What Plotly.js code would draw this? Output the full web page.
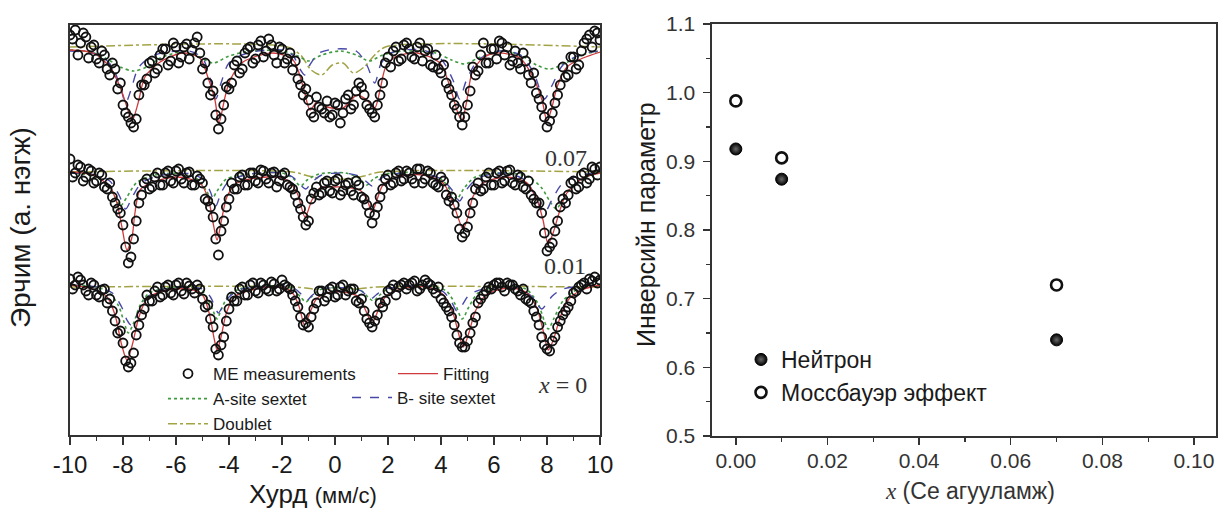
<!DOCTYPE html>
<html>
<head>
<meta charset="utf-8">
<script src="https://cdn.plot.ly/plotly-3.0.1.min.js"></script>
<style>html,body{margin:0;padding:0;background:#fff;}#chart{width:1218px;height:508px;}</style>
</head>
<body>
<div id="chart"></div>
<script>
// ---------- Left panel: Mössbauer spectra (velocity, mm/s) ----------
const vel = [-10,-9.8,-9.6,-9.4,-9.2,-9,-8.8,-8.6,-8.4,-8.2,-8,-7.8,-7.6,-7.4,-7.2,-7,-6.8,-6.6,-6.4,-6.2,-6,-5.8,-5.6,-5.4,-5.2,-5,-4.8,-4.6,-4.4,-4.2,-4,-3.8,-3.6,-3.4,-3.2,-3,-2.8,-2.6,-2.4,-2.2,-2,-1.8,-1.6,-1.4,-1.2,-1,-0.8,-0.6,-0.4,-0.2,0,0.2,0.4,0.6,0.8,1,1.2,1.4,1.6,1.8,2,2.2,2.4,2.6,2.8,3,3.2,3.4,3.6,3.8,4,4.2,4.4,4.6,4.8,5,5.2,5.4,5.6,5.8,6,6.2,6.4,6.6,6.8,7,7.2,7.4,7.6,7.8,8,8.2,8.4,8.6,8.8,9,9.2,9.4,9.6,9.8,10];
const velB = [-9.9,-9.7,-9.5,-9.3,-9.1,-8.9,-8.7,-8.5,-8.3,-8.1,-7.9,-7.7,-7.5,-7.3,-7.1,-6.9,-6.7,-6.5,-6.3,-6.1,-5.9,-5.7,-5.5,-5.3,-5.1,-4.9,-4.7,-4.5,-4.3,-4.1,-3.9,-3.7,-3.5,-3.3,-3.1,-2.9,-2.7,-2.5,-2.3,-2.1,-1.9,-1.7,-1.5,-1.3,-1.1,-0.9,-0.7,-0.5,-0.3,-0.1,0.1,0.3,0.5,0.7,0.9,1.1,1.3,1.5,1.7,1.9,2.1,2.3,2.5,2.7,2.9,3.1,3.3,3.5,3.7,3.9,4.1,4.3,4.5,4.7,4.9,5.1,5.3,5.5,5.7,5.9,6.1,6.3,6.5,6.7,6.9,7.1,7.3,7.5,7.7,7.9,8.1,8.3,8.5,8.7,8.9,9.1,9.3,9.5,9.7,9.9];

// measured intensities (arb. units, stacked spectra) - even channels
const meas1 = [400,405,392,398,388,376,384,366,372,346,330,318,308,340,350,372,362,380,386,374,388,378,391,385,398,366,352,344,306,330,346,370,362,382,388,376,394,384,390,372,386,376,365,356,340,335,318,328,322,318,332,312,336,326,344,348,330,322,330,352,378,384,374,390,386,376,392,384,370,380,362,352,340,326,310,330,368,364,392,372,386,394,380,370,384,366,374,352,342,328,308,322,340,368,360,378,370,392,400,404,395];
const meas2 = [276,262,268,258,264,254,260,246,238,226,210,172,196,232,252,246,258,250,262,254,264,256,262,250,259,252,234,218,180,214,236,246,258,250,262,254,265,256,262,248,260,250,246,232,218,214,242,240,252,244,254,240,250,244,254,238,230,212,228,246,260,252,264,256,262,252,266,256,262,250,258,240,238,222,198,208,232,252,246,262,250,264,254,265,250,258,246,240,232,222,184,192,214,236,240,254,248,262,256,266,268];
const meas3 = [156,150,155,144,152,140,145,132,124,102,92,68,82,110,126,134,144,138,148,142,150,144,152,146,150,136,130,108,80,98,126,134,146,140,150,144,152,146,153,144,155,148,140,128,110,108,126,144,134,146,138,148,140,146,134,136,116,108,120,128,144,150,148,152,150,154,146,155,150,142,136,128,118,100,88,94,112,132,140,148,150,152,144,150,146,140,136,132,118,98,86,94,108,120,128,142,148,152,156,158,155];
// odd channels
const meas1b = [396,380,402,377,390,372,380,360,366,352,322,312,316,350,356,374,366,386,370,392,372,388,376,392,382,372,340,320,316,348,352,374,366,386,372,390,378,396,380,388,372,382,374,350,346,322,338,326,334,320,330,322,340,330,352,340,326,318,340,372,368,388,376,392,378,388,374,386,368,366,370,346,330,318,318,344,360,380,372,386,376,392,388,374,372,382,360,362,336,318,314,332,350,358,378,366,384,396,388,402];
const meas2b = [258,270,254,266,252,262,248,252,232,222,188,178,214,240,256,248,262,250,264,252,266,252,263,250,256,236,228,196,204,228,252,246,260,250,262,252,264,252,263,254,262,248,240,226,210,236,248,242,254,242,256,244,252,240,250,236,222,220,238,256,250,262,254,264,256,266,252,264,252,248,254,234,230,206,202,222,246,244,258,250,262,252,264,252,260,248,254,236,232,202,188,204,228,232,252,246,260,252,268,260];
const meas3b = [146,158,150,140,150,138,146,136,114,104,74,72,100,120,140,134,148,140,150,140,152,141,149,142,146,128,116,86,90,114,138,134,148,140,152,142,150,144,151,146,150,146,134,118,112,118,132,144,138,148,140,150,144,146,132,124,112,114,132,134,146,140,150,146,152,144,150,152,146,148,132,124,110,92,88,102,118,136,144,146,152,148,152,150,144,146,134,124,110,90,84,98,114,124,134,144,150,146,154,152];

// fitted curves (read at knots)
const fit1V = [-10,-9.13,-8.49,-8.11,-7.85,-7.66,-7.43,-7.17,-6.6,-5.74,-5.1,-4.8,-4.53,-4.38,-4.15,-3.96,-3.47,-2.34,-1.58,-1.2,-0.94,-0.68,-0.3,0.3,0.83,1.2,1.5,1.7,1.9,2.26,3.1,3.96,4.34,4.64,4.79,4.98,5.17,5.58,6.11,6.98,7.47,7.81,8,8.19,8.38,8.75,9.36,10];
const fit1Y = [385,382,368,348,328,314,332,358,373,382,377,358,335,312,338,355,373,382,375,348,325,333,328,327,340,335,327,345,367,378,382,372,348,322,315,335,362,377,382,377,358,335,314,328,348,368,377,383];
const fit2V = [-10,-9.13,-8.49,-8.23,-8.04,-7.85,-7.66,-7.55,-7.36,-6.87,-5.96,-5.1,-4.79,-4.6,-4.45,-4.26,-4.08,-3.7,-2.57,-1.81,-1.43,-1.13,-0.87,-0.57,-0.07,0.19,0.94,1.21,1.4,1.58,1.81,2.34,3.32,4.08,4.45,4.72,4.83,5.02,5.2,5.58,6.49,7.25,7.62,7.85,8.04,8.23,8.49,8.75,9.36,10];
const fit2Y = [263,260,248,232,208,185,198,222,245,253,258,252,237,212,195,218,238,252,258,255,242,218,235,247,248,248,245,235,223,235,250,258,260,252,232,212,206,218,238,252,258,252,235,215,191,202,225,242,257,262];
const fit3V = [-10,-9.13,-8.6,-8.3,-8.05,-7.85,-7.65,-7.4,-7.1,-6.5,-5.5,-5,-4.75,-4.55,-4.45,-4.3,-4.1,-3.8,-3,-2,-1.6,-1.35,-1.15,-0.95,-0.7,-0.3,0.3,0.9,1.15,1.4,1.65,1.9,2.5,3.5,4.1,4.45,4.7,4.85,5.05,5.3,5.7,6.5,7.2,7.6,7.85,8.05,8.25,8.5,8.8,9.3,10];
const fit3Y = [150,146,138,120,90,75,90,118,136,144,146,140,122,95,85,98,122,138,146,148,142,128,110,122,136,142,143,138,125,112,126,138,146,148,140,122,98,88,102,124,140,147,143,128,105,85,96,118,135,145,150];

// B-site sextet components
const bs1V = [-10,-8.9,-8.4,-8.1,-7.9,-7.7,-7.4,-6.8,-5.5,-5,-4.75,-4.5,-4.3,-4,-3.3,-2,-1.6,-1.3,-1.15,-0.95,-0.6,0,0.8,1.2,1.5,1.75,2.2,3.3,4,4.45,4.7,4.95,5.4,6.2,7,7.5,7.9,8.2,8.6,9.3,10];
const bs1Y = [384,380,368,348,332,345,368,380,384,377,360,336,352,372,382,385,380,365,360,370,382,386,384,370,352,372,383,385,376,355,336,354,375,384,380,362,336,350,370,381,384];
const bs2V = [-10,-9,-8.5,-8.15,-7.9,-7.65,-7.3,-6.5,-5.4,-4.95,-4.7,-4.5,-4.3,-4,-3.2,-2,-1.6,-1.3,-1.1,-0.9,-0.5,0.3,0.9,1.2,1.4,1.6,2,3.2,4,4.45,4.7,4.95,5.4,6.4,7.1,7.55,7.9,8.2,8.6,9.3,10];
const bs2Y = [262,260,254,240,226,238,252,260,261,255,243,229,242,254,261,262,258,250,246,252,260,262,259,253,249,254,260,262,256,244,234,245,257,262,256,240,222,236,252,260,262];
const bs3V = [-10,-9,-8.4,-8.05,-7.85,-7.7,-7.5,-7.25,-6.9,-6,-5,-4.7,-4.5,-4.4,-4.25,-4,-3.5,-2,-1.5,-1.25,-1.05,-0.85,-0.5,0.5,1,1.2,1.35,1.55,1.9,3.5,4.1,4.4,4.6,4.8,5.1,6,7,7.45,7.65,7.8,7.95,8.2,8.6,10];
const bs3Y = [150,148,142,128,115,110,118,132,142,148,146,138,126,122,128,138,146,149,146,140,135,140,146,147,144,139,136,140,146,149,143,133,124,130,141,148,146,138,130,126,130,139,146,150];

// A-site sextet components
const as1V = [-10,-9.2,-8.6,-8.1,-7.6,-7.1,-6.6,-5.8,-5.2,-4.6,-4,-3.2,-2,-1.4,-1,-0.5,0.2,0.8,1.3,1.8,2.6,3.8,4.4,4.9,5.4,6.2,7,7.6,8.1,8.7,9.3,10];
const as1Y = [385,383,376,368,364,368,377,383,379,372,379,384,384,379,374,380,384,380,374,380,384,382,375,371,377,384,380,370,366,372,380,384];
const as2V = [-10,-9.1,-8.6,-8.3,-8.1,-7.85,-7.5,-6.8,-5.6,-5.1,-4.85,-4.65,-4.45,-4.1,-3.2,-2,-1.6,-1.3,-1.05,-0.6,0.4,0.9,1.2,1.45,1.9,3.3,4,4.35,4.6,4.85,5.3,6.5,7.3,7.8,8.1,8.35,8.6,9,9.6,10];
const as2Y = [262,259,250,238,229,238,252,260,261,254,244,236,244,256,261,262,257,249,255,261,262,257,250,256,261,262,256,245,236,246,258,262,258,247,234,226,236,250,259,262];
const as3V = [-10,-9,-8.5,-8.15,-7.95,-7.8,-7.6,-7.35,-7,-6,-5.1,-4.8,-4.6,-4.45,-4.3,-4.05,-3.6,-2,-1.6,-1.3,-1.1,-0.9,-0.5,0.5,1,1.25,1.45,1.65,2,3.5,4.2,4.55,4.8,5.05,5.4,6.3,7.2,7.65,7.9,8.05,8.25,8.6,9.1,10];
const as3Y = [150,148,142,128,112,102,112,130,142,148,146,136,124,116,125,138,146,149,146,138,133,138,146,147,144,138,134,139,146,149,144,130,116,128,142,149,146,132,114,106,116,134,145,150];

// Doublet components
const db1V = [-10,-1.8,-1.3,-0.9,-0.5,-0.1,0.3,0.7,1.1,1.5,1.9,10];
const db1Y = [388,388,380,365,360,370,372,362,368,380,388,388];
const db2V = [-10,-1.6,-1,-0.4,0.4,1.1,1.7,10];
const db2Y = [263,263,259,256,256,259,263,263];
const db3V = [-10,-1.5,-0.8,0.8,1.6,10];
const db3Y = [148,148,146,146,148,148];

const velTicks = [-10,-8,-6,-4,-2,0,2,4,6,8,10];
const velTickText = ['-10','-8','-6','-4','-2','0','2','4','6','8','10'];

// ---------- Right panel: inversion parameter vs Ce content ----------
const ceX = [0, 0.01, 0.07];
const neutronInv = [0.918, 0.874, 0.640];
const mossInv = [0.988, 0.905, 0.720];
const ceTicks = [0, 0.02, 0.04, 0.06, 0.08, 0.10];
const ceTickText = ['0.00','0.02','0.04','0.06','0.08','0.10'];
const invTicks = [0.5, 0.6, 0.7, 0.8, 0.9, 1.0, 1.1];
const invTickText = ['0.5','0.6','0.7','0.8','0.9','1.0','1.1'];

const RED = '#d03a3c', BLUE = '#4848a8', GREEN = '#3f9b3f', OLIVE = '#a3a346';

function line(xs, ys, color, dash, width, name, legend, show, rank) {
  return {x: xs, y: ys, type: 'scatter', mode: 'lines', name: name,
    line: {color: color, dash: dash, width: width, shape: 'spline', smoothing: 0.8},
    xaxis: 'x', yaxis: 'y', legend: legend, showlegend: show, legendgroup: name,
    legendrank: rank, hoverinfo: 'skip'};
}
function pts(xs, ys, show) {
  return {x: xs, y: ys, type: 'scatter', mode: 'markers', name: 'ME measurements',
    marker: {symbol: 'circle-open', size: 9, color: '#111', line: {width: 1.8, color: '#111'}},
    xaxis: 'x', yaxis: 'y', legend: 'legend', showlegend: show, legendgroup: 'me', legendrank: 1};
}

const traces = [
  line(db1V, db1Y, OLIVE, 'dashdot', 1.5, 'Doublet', 'legend', true, 3),
  line(db2V, db2Y, OLIVE, 'dashdot', 1.5, 'Doublet', 'legend', false, 3),
  line(db3V, db3Y, OLIVE, 'dashdot', 1.5, 'Doublet', 'legend', false, 3),
  line(as1V, as1Y, GREEN, 'dot', 1.6, 'A-site sextet', 'legend', true, 2),
  line(as2V, as2Y, GREEN, 'dot', 1.6, 'A-site sextet', 'legend', false, 2),
  line(as3V, as3Y, GREEN, 'dot', 1.6, 'A-site sextet', 'legend', false, 2),
  line(bs1V, bs1Y, BLUE, 'dash', 1.4, 'B- site sextet', 'legend3', true, 1),
  line(bs2V, bs2Y, BLUE, 'dash', 1.4, 'B- site sextet', 'legend3', false, 1),
  line(bs3V, bs3Y, BLUE, 'dash', 1.4, 'B- site sextet', 'legend3', false, 1),
  line(fit1V, fit1Y, RED, 'solid', 1.3, 'Fitting', 'legend2', true, 1),
  line(fit2V, fit2Y, RED, 'solid', 1.3, 'Fitting', 'legend2', false, 1),
  line(fit3V, fit3Y, RED, 'solid', 1.3, 'Fitting', 'legend2', false, 1),
  pts(vel, meas1, true), pts(vel, meas2, false), pts(vel, meas3, false),
  pts(velB, meas1b, false), pts(velB, meas2b, false), pts(velB, meas3b, false),
  {x: ceX, y: neutronInv, type: 'scatter', mode: 'markers', name: 'Нейтрон',
   marker: {symbol: 'circle', size: 12, color: '#000', gradient: {type: 'radial', color: '#6a6a6a'}, line: {color: '#000', width: 1}},
   xaxis: 'x2', yaxis: 'y2', legend: 'legend4', legendrank: 1},
  {x: ceX, y: mossInv, type: 'scatter', mode: 'markers', name: 'Моссбауэр эффект',
   marker: {symbol: 'circle-open', size: 11, color: '#111', line: {width: 2.6, color: '#111'}},
   xaxis: 'x2', yaxis: 'y2', legend: 'legend4', legendrank: 2}
];

const AX = '#333';
const FONT = 'Liberation Sans, Arial, sans-serif';
const SERIF = 'Liberation Serif, Times New Roman, serif';
const W = 1218, H = 508;

const layout = {
  width: W, height: H, margin: {l: 0, r: 0, t: 0, b: 0},
  paper_bgcolor: '#fff', plot_bgcolor: '#fff',
  font: {family: FONT, color: '#1a1a1a'},
  hovermode: false,
  xaxis: {domain: [70 / W, 600 / W], range: [-10, 10], anchor: 'y',
    tickmode: 'array', tickvals: velTicks, ticktext: velTickText,
    ticks: 'outside', ticklen: 8, tickwidth: 1.5, tickcolor: AX,
    minor: {tickmode: 'linear', tick0: -10, dtick: 1, ticks: 'outside', ticklen: 4, tickwidth: 1.3, tickcolor: AX},
    showline: true, linecolor: AX, linewidth: 1.6, mirror: true,
    showgrid: false, zeroline: false, tickfont: {size: 24, color: '#1a1a1a'}, ticklabelstandoff: 0},
  yaxis: {domain: [1 - 435 / H, 1 - 25 / H], range: [0, 410], anchor: 'x',
    showline: true, linecolor: AX, linewidth: 1.6, mirror: true,
    showticklabels: false, ticks: '', showgrid: false, zeroline: false},
  xaxis2: {domain: [712 / W, 1216 / W], range: [-0.0052, 0.1048], anchor: 'y2',
    tickmode: 'array', tickvals: ceTicks, ticktext: ceTickText,
    ticks: 'outside', ticklen: 7, tickwidth: 1.5, tickcolor: AX,
    minor: {tickmode: 'linear', tick0: 0.01, dtick: 0.02, ticks: 'outside', ticklen: 4, tickwidth: 1.3, tickcolor: AX},
    showline: true, linecolor: AX, linewidth: 1.6, mirror: true,
    showgrid: false, zeroline: false, tickfont: {size: 21, color: '#333'}, ticklabelstandoff: -2},
  yaxis2: {domain: [1 - 436 / H, 1 - 24 / H], range: [0.5, 1.1], anchor: 'x2',
    tickmode: 'array', tickvals: invTicks, ticktext: invTickText,
    ticks: 'outside', ticklen: 7, tickwidth: 1.5, tickcolor: AX,
    minor: {tickmode: 'linear', tick0: 0.55, dtick: 0.1, ticks: 'outside', ticklen: 4, tickwidth: 1.3, tickcolor: AX},
    showline: true, linecolor: AX, linewidth: 1.6, mirror: true,
    showgrid: false, zeroline: false, tickfont: {size: 21, color: '#333'}, ticklabelstandoff: 4},
  xaxis3: {overlaying: 'x2', anchor: 'y2', side: 'top', range: [-0.0052, 0.1048],
    tickmode: 'array', tickvals: ceTicks, showticklabels: false,
    ticks: 'inside', ticklen: 7, tickwidth: 1.5, tickcolor: AX,
    minor: {tickmode: 'linear', tick0: 0.01, dtick: 0.02, ticks: 'inside', ticklen: 4, tickwidth: 1.3, tickcolor: AX},
    showline: false, showgrid: false, zeroline: false},
  yaxis3: {overlaying: 'y2', anchor: 'x2', side: 'right', range: [0.5, 1.1],
    tickmode: 'array', tickvals: invTicks, showticklabels: false,
    ticks: 'inside', ticklen: 7, tickwidth: 1.5, tickcolor: AX,
    minor: {tickmode: 'linear', tick0: 0.55, dtick: 0.1, ticks: 'inside', ticklen: 4, tickwidth: 1.3, tickcolor: AX},
    showline: false, showgrid: false, zeroline: false},
  legend: {x: 163 / W, y: 1 - 356 / H, xanchor: 'left', yanchor: 'top', bgcolor: 'rgba(0,0,0,0)',
    font: {size: 17, color: '#1a1a1a'}, itemwidth: 40, tracegroupgap: 0, traceorder: 'normal'},
  legend2: {x: 393 / W, y: 1 - 356 / H, xanchor: 'left', yanchor: 'top', bgcolor: 'rgba(0,0,0,0)',
    font: {size: 17, color: '#1a1a1a'}, itemwidth: 40},
  legend3: {x: 347 / W, y: 1 - 380 / H, xanchor: 'left', yanchor: 'top', bgcolor: 'rgba(0,0,0,0)',
    font: {size: 17, color: '#1a1a1a'}, itemwidth: 40},
  legend4: {x: 741 / W, y: 1 - 338 / H, xanchor: 'left', yanchor: 'top', bgcolor: 'rgba(0,0,0,0)',
    font: {size: 23, color: '#1a1a1a'}, itemwidth: 30, tracegroupgap: 0},
  annotations: [
    {text: 'Эрчим (а. нэгж)', xref: 'paper', yref: 'paper', x: 20 / W, y: 1 - 228 / H,
     textangle: -90, showarrow: false, font: {size: 28, color: '#1a1a1a'}, xanchor: 'center', yanchor: 'middle'},
    {text: "Хурд <span style='font-size:22px'>(мм/с)</span>", xref: 'paper', yref: 'paper', x: 313 / W, y: 1 - 494 / H,
     showarrow: false, font: {size: 26, color: '#1a1a1a'}, xanchor: 'center', yanchor: 'middle'},
    {text: 'Инверсийн параметр', xref: 'paper', yref: 'paper', x: 646 / W, y: 1 - 225 / H,
     textangle: -90, showarrow: false, font: {size: 25, color: '#1a1a1a'}, xanchor: 'center', yanchor: 'middle'},
    {text: "<span style='font-family:Liberation Serif'><i>x</i></span> (Ce агууламж)", xref: 'paper', yref: 'paper', x: 970 / W, y: 1 - 491 / H,
     showarrow: false, font: {size: 23, color: '#333'}, xanchor: 'center', yanchor: 'middle'},
    {text: '0.07', xref: 'paper', yref: 'paper', x: 566 / W, y: 1 - 158 / H,
     showarrow: false, font: {family: SERIF, size: 24, color: '#333'}, xanchor: 'center', yanchor: 'middle'},
    {text: '0.01', xref: 'paper', yref: 'paper', x: 565 / W, y: 1 - 266 / H,
     showarrow: false, font: {family: SERIF, size: 24, color: '#333'}, xanchor: 'center', yanchor: 'middle'},
    {text: '<i>x</i> = 0', xref: 'paper', yref: 'paper', x: 562 / W, y: 1 - 385 / H,
     showarrow: false, font: {family: SERIF, size: 24, color: '#333'}, xanchor: 'center', yanchor: 'middle'}
  ]
};

Plotly.newPlot('chart', traces, layout, {staticPlot: true, displayModeBar: false});
</script>
</body>
</html>
